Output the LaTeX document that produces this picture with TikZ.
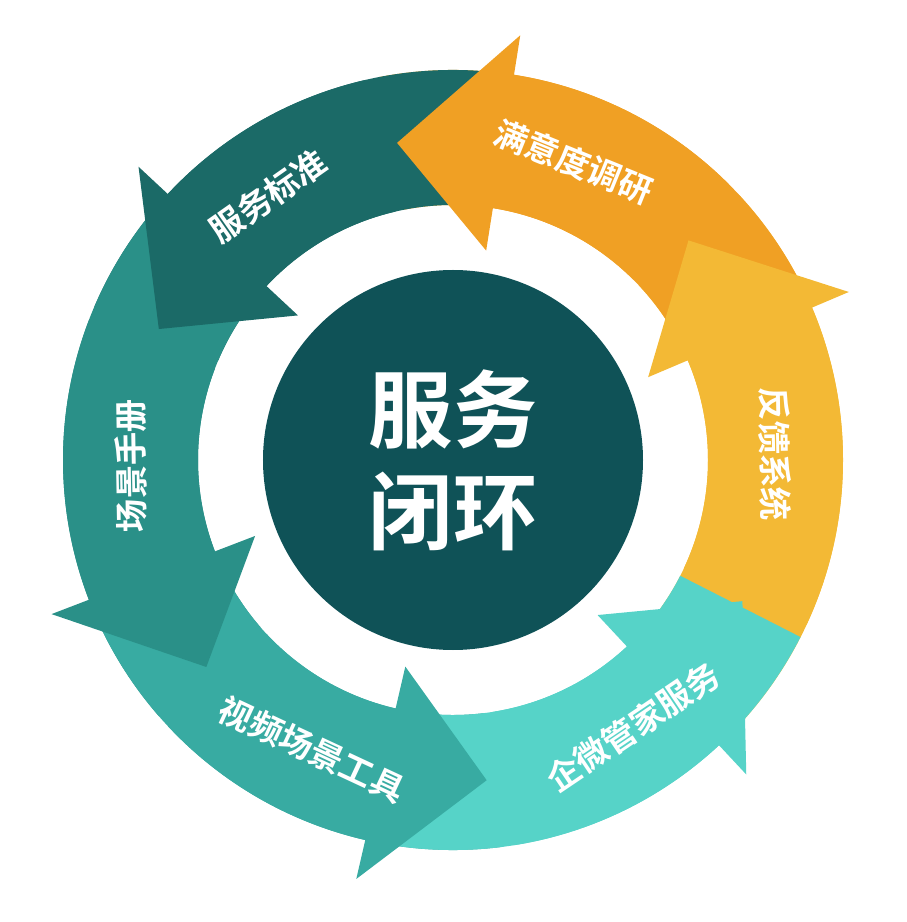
\documentclass[tikz,border=0pt]{standalone}
\usepackage{fontspec}
\newfontfamily\cjk{Noto Sans CJK SC}[BoldFont={Noto Sans CJK SC Bold}]
\definecolor{stdteal}{HTML}{1B6A67}
\definecolor{handteal}{HTML}{2A9088}
\definecolor{videoteal}{HTML}{38ABA2}
\definecolor{wecyan}{HTML}{56D3C8}
\definecolor{fbyellow}{HTML}{F3B935}
\definecolor{surorange}{HTML}{F0A024}
\definecolor{coreteal}{HTML}{0F5257}
\tikzset{
  seglabel/.style={text=white, font=\cjk\bfseries\fontsize{19}{19}\selectfont},
}
\begin{document}
\begin{tikzpicture}[x=0.02cm, y=0.02cm]
  \useasboundingbox (-453,-462) rectangle (453,460);
  % ring bodies
  \foreach \a/\b/\t/\col in {-47/23/43/fbyellow, 23/81/100/surorange, 81/137/156/stdteal,
                             137/201/220/handteal, 201/257/276/videoteal, 257/313/334/wecyan}
    \fill[\col] (\a:255) arc[start angle=\a, end angle=\b+20, radius=255]
      -- (\b+20:390) arc[start angle=\b+20, end angle=\a, radius=390] -- cycle;
  % arrow heads
  \foreach \a/\b/\t/\col in {-47/23/43/fbyellow, 23/81/100/surorange, 81/137/156/stdteal,
                             137/201/220/handteal, 201/257/276/videoteal, 257/313/334/wecyan}
    \fill[\col] (\a+22:255) arc[start angle=\a+22, end angle=\b, radius=255]
      -- (\b:212) -- (\t:322) -- (\b:430) -- (\b:390)
      arc[start angle=\b, end angle=\a+22, radius=390] -- cycle;
  % centre
  \node[circle, fill=coreteal, minimum size=380*0.02cm, inner sep=0pt] (core) at (0,0) {};
  \node[text=white, font=\cjk\bfseries\fontsize{48}{58}\selectfont, align=center] (coretext) at (core) {服务\\闭环};
  % labels
  \node[seglabel, rotate=-22] (survey) at (68:322) {满意度调研};
  \node[seglabel, rotate=-89] (feedback) at (1:322) {反馈系统};
  \node[seglabel, rotate=34] (wecom) at (-56:322) {企微管家服务};
  \node[seglabel, rotate=-25] (video) at (244:322) {视频场景工具};
  \node[seglabel, rotate=91] (manual) at (181:322) {场景手册};
  \node[seglabel, rotate=35] (standard) at (125:322) {服务标准};
\end{tikzpicture}
\end{document}
